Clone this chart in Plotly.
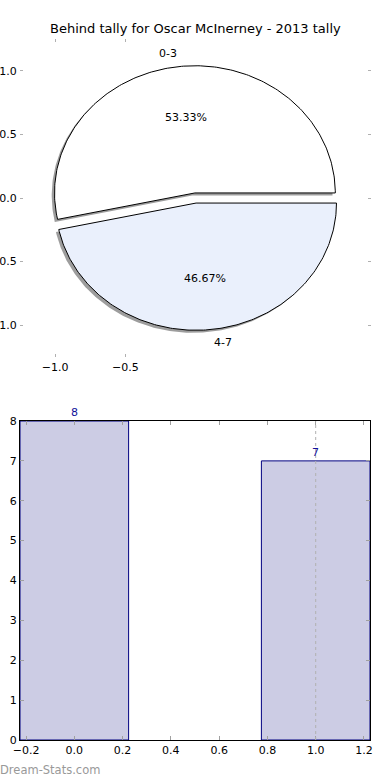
import numpy as np
import plotly.graph_objects as go

# ---------------- data ----------------
title = "Behind tally for Oscar McInerney - 2013 tally"
pie_labels = ["0-3", "4-7"]
pie_values = [8, 7]
pie_colors = ["#ffffff", "#eaf0fc"]

bar_x = [0, 1]
bar_y = [8, 7]
bar_text = ["8", "7"]

pie_xticks = [-1.0, -0.5]
pie_yticks = [-1.0, -0.5, 0.0, 0.5, 1.0]
bar_xticks = [-0.2, 0.0, 0.2, 0.4, 0.6, 0.8, 1.0, 1.2]
bar_yticks = [0, 1, 2, 3, 4, 5, 6, 7, 8]

# ---------------- style ----------------
FONT = "DejaVu Sans"
explode = 0.04
shadow_dx, shadow_dy = -0.02, -0.02
bar_width = 0.45

fig = go.Figure()

total = float(sum(pie_values))
fracs = [v / total for v in pie_values]
start = 0.0
annotations = []
for lab, frac, col in zip(pie_labels, fracs, pie_colors):
    t1 = 360.0 * start
    t2 = 360.0 * (start + frac)
    mid = np.deg2rad((t1 + t2) / 2.0)
    cx, cy = explode * np.cos(mid), explode * np.sin(mid)
    th = np.deg2rad(np.linspace(t1, t2, 200))
    xs = np.concatenate([[cx], cx + np.cos(th), [cx]])
    ys = np.concatenate([[cy], cy + np.sin(th), [cy]])
    # shadow
    fig.add_trace(go.Scatter(x=xs + shadow_dx, y=ys + shadow_dy, mode="lines",
                             fill="toself", fillcolor="rgba(60,60,60,0.5)",
                             line=dict(width=0), hoverinfo="skip",
                             xaxis="x", yaxis="y", showlegend=False))
    fig.add_trace(go.Scatter(x=xs, y=ys, mode="lines", fill="toself",
                             fillcolor=col, line=dict(color="black", width=1),
                             hoverinfo="skip", xaxis="x", yaxis="y",
                             showlegend=False))
    lx = 1.1 * np.cos(mid) + cx
    ly = 1.1 * np.sin(mid) + cy
    annotations.append(dict(x=lx, y=ly, xref="x", yref="y", text=lab,
                            showarrow=False, xanchor="left" if lx > 0 else "right",
                            yanchor="middle", font=dict(family=FONT, size=11, color="black")))
    px = 0.6 * np.cos(mid) + cx
    py = 0.6 * np.sin(mid) + cy
    annotations.append(dict(x=px, y=py, xref="x", yref="y", text=f"{frac*100:.2f}%",
                            showarrow=False, xanchor="center", yanchor="middle",
                            font=dict(family=FONT, size=11, color="black")))
    start += frac

# bars
fig.add_trace(go.Bar(x=bar_x, y=bar_y, width=bar_width, xaxis="x2", yaxis="y2",
                     marker=dict(color="rgb(204,204,228)",
                                 line=dict(color="#000080", width=1)),
                     hoverinfo="skip", showlegend=False))
for xv, yv, tv in zip(bar_x, bar_y, bar_text):
    annotations.append(dict(x=xv, y=yv, xref="x2", yref="y2", text=tv, showarrow=False,
                            xanchor="center", yanchor="bottom", yshift=0,
                            font=dict(family=FONT, size=11, color="#10109a")))

# title
annotations.append(dict(x=0.5, y=1 - 29 / 780, xref="paper", yref="paper", text=title,
                        showarrow=False, xanchor="center", yanchor="middle",
                        font=dict(family=FONT, size=13, color="black")))
# watermark
annotations.append(dict(x=0.0, y=1 - 770 / 780, xref="paper", yref="paper",
                        text="Dream-Stats.com", showarrow=False,
                        xanchor="left", yanchor="middle", xshift=-2,
                        font=dict(family=FONT, size=11.5, color="#999999")))

shapes = [dict(type="line", xref="x2", yref="y2 domain", x0=bar_x[1], x1=bar_x[1],
               y0=0, y1=1, layer="above",
               line=dict(color="#b0b0b0", width=1, dash="dot"))]

tickfont = dict(family=FONT, size=11, color="black")
fig.update_layout(
    width=390, height=780, margin=dict(l=0, r=0, t=0, b=0, autoexpand=False),
    paper_bgcolor="white", plot_bgcolor="white",
    showlegend=False, annotations=annotations, shapes=shapes,
    xaxis=dict(domain=[20 / 390, 371 / 390], anchor="y", range=[-1.25, 1.25],
               tickmode="array", tickvals=pie_xticks, tickformat=".1f",
               ticks="inside", ticklen=3, tickcolor="#b0b0b0", tickwidth=1,
               showline=True, linecolor="rgba(0,0,0,0)", mirror="allticks",
               showgrid=False, zeroline=False, tickfont=tickfont, fixedrange=True,
               automargin=False),
    yaxis=dict(domain=[1 - 357 / 780, 1 - 39 / 780], anchor="x", range=[-1.25, 1.25],
               tickmode="array", tickvals=pie_yticks, tickformat=".1f",
               ticks="inside", ticklen=3, tickcolor="#b0b0b0", tickwidth=1,
               showline=True, linecolor="rgba(0,0,0,0)", mirror="allticks",
               showgrid=False, zeroline=False, tickfont=tickfont, fixedrange=True,
               automargin=False),
    xaxis2=dict(domain=[20 / 390, 370 / 390], anchor="y2",
                range=[bar_x[0] - bar_width / 2, bar_x[-1] + bar_width / 2],
                tickmode="array", tickvals=bar_xticks, tickformat=".1f",
                ticks="inside", ticklen=4, tickcolor="#a0a0a0", tickwidth=1,
                showline=True, linecolor="black", linewidth=1, mirror="allticks",
                showgrid=False, zeroline=False, tickfont=tickfont, fixedrange=True,
                automargin=False),
    yaxis2=dict(domain=[1 - 740 / 780, 1 - 421 / 780], anchor="x2", range=[0, 8],
                tickmode="array", tickvals=bar_yticks,
                ticks="inside", ticklen=4, tickcolor="#a0a0a0", tickwidth=1,
                showline=True, linecolor="black", linewidth=1, mirror="allticks",
                showgrid=False, zeroline=False, tickfont=tickfont, fixedrange=True,
                automargin=False),
)

fig.write_html("out.html", config={"displayModeBar": False, "staticPlot": True},
               post_script="document.body.style.margin='0';document.body.style.overflow='hidden';")
